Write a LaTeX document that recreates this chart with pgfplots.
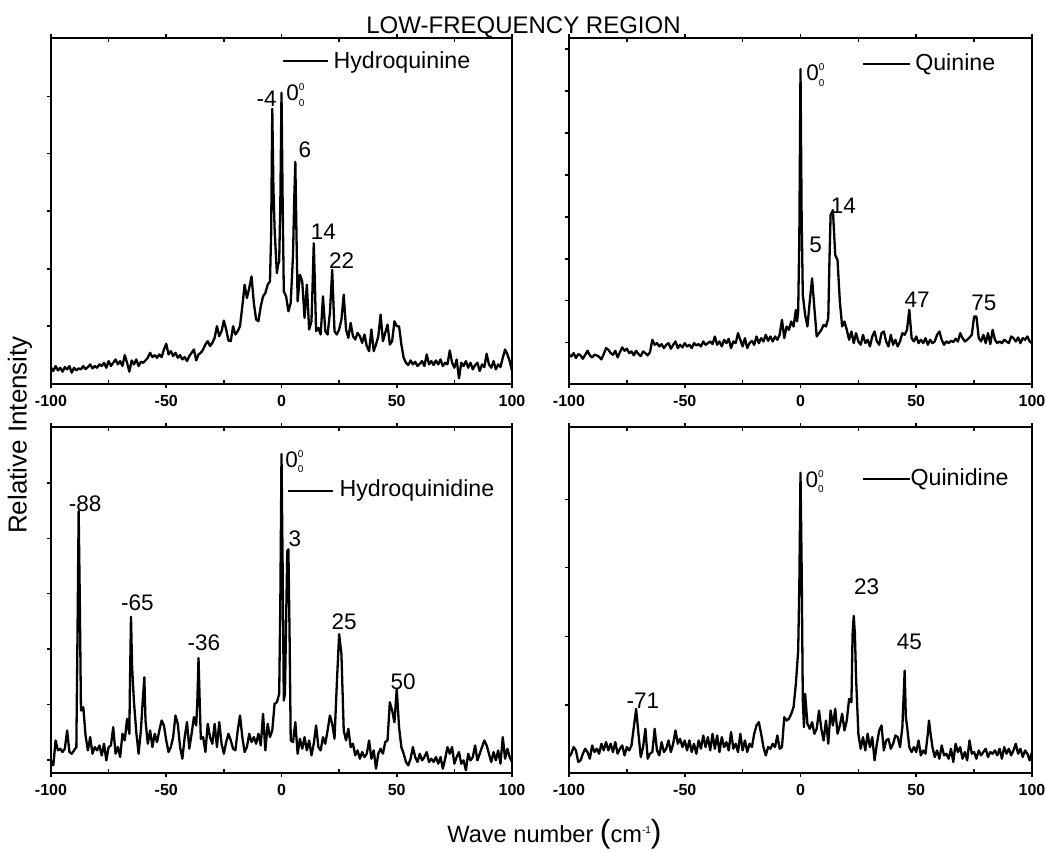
\documentclass[border=0pt]{standalone}
\usepackage{pgfplots}
\pgfplotsset{compat=1.18}
\usepackage{pgfplotstable}
\usepackage{fontspec}
\setmainfont{Liberation Sans}

% Hydroquinine (top left)
\pgfplotstableread{
x y
-100 49
-99 39
-98 54
-97 41
-96 49
-95 37
-94 51
-93 44
-92 54
-91 34
-90 49
-89 41
-88 47
-87 44
-86 54
-85 45
-84 51
-83 59
-82 47
-81 54
-80 49
-79 59
-78 54
-77 64
-76 49
-75 69
-74 54
-73 64
-72 74
-71 59
-70 69
-69 54
-68 87
-67 64
-66 37
-65 71
-64 59
-63 74
-62 54
-61 67
-60 64
-59 71
-58 79
-57 94
-56 81
-55 87
-54 79
-53 89
-52 81
-51 104
-50 121
-49 89
-48 99
-47 84
-46 94
-45 79
-44 87
-43 74
-42 81
-41 69
-40 84
-39 94
-38 104
-37 71
-36 89
-35 94
-34 104
-33 119
-32 129
-31 114
-30 124
-29 139
-28 174
-27 144
-26 159
-25 191
-24 164
-23 131
-22 129
-21 174
-20 149
-19 159
-18 174
-17 234
-16 299
-15 259
-14 289
-13 324
-12 244
-11 194
-10 189
-9 234
-8 264
-7 274
-6 299
-5 309
-4.5 449
-4 829
-3.5 589
-3 469
-2.5 399
-2 334
-1.5 359
-1 369
-0.5 549
0 877
0.5 549
1 279
2 264
3 219
4 244
5 389
5.5 549
6 669
6.5 449
7 249
8 329
9 309
10 199
11 299
12 164
13 189
13.5 299
14 424
14.5 299
15 159
16 169
17 149
18 264
19 159
20 149
21 214
22 344
22.5 249
23 159
24 149
25 164
26 194
27 269
28 164
29 139
30 184
31 144
32 134
33 154
34 144
35 124
36 149
37 114
38 99
39 164
40 99
41 119
42 144
43 209
44 129
45 154
46 179
47 119
48 129
49 189
50 174
51 174
52 119
53 79
54 64
55 57
56 71
57 59
58 67
59 54
60 61
61 69
62 54
63 89
64 59
65 69
66 57
67 71
68 59
69 74
70 54
71 64
72 59
73 101
74 64
75 49
76 74
77 17
78 64
79 54
80 69
81 49
82 64
83 44
84 57
85 64
86 39
87 59
88 51
89 91
90 59
91 49
92 69
93 44
94 59
95 51
96 79
97 104
98 89
99 69
100 39
}\dataTL

% Quinine (top right)
\pgfplotstableread{
x y
-100 88
-99 83
-98 93
-97 78
-96 90
-95 86
-94 76
-93 88
-92 100
-91 86
-90 80
-89 88
-88 86
-87 82
-86 74
-85 90
-84 108
-83 103
-82 93
-81 88
-80 100
-79 80
-78 96
-77 110
-76 100
-75 106
-74 93
-73 98
-72 86
-71 100
-70 90
-69 84
-68 98
-67 93
-66 86
-65 96
-64 133
-63 118
-62 123
-61 113
-60 120
-59 108
-58 118
-57 123
-56 106
-55 118
-54 128
-53 108
-52 118
-51 110
-50 123
-49 113
-48 118
-47 108
-46 123
-45 116
-44 120
-43 113
-42 128
-41 118
-40 123
-39 128
-38 120
-37 143
-36 118
-35 128
-34 113
-33 133
-32 123
-31 136
-30 108
-29 128
-28 123
-27 153
-26 133
-25 113
-24 138
-23 108
-22 123
-21 130
-20 118
-19 143
-18 123
-17 138
-16 128
-15 148
-14 130
-13 143
-12 128
-11 143
-10 133
-9 148
-8 193
-7 138
-6 173
-5 163
-4 188
-3 173
-2 223
-1.5 188
-1 218
-0.5 448
0 948
0.5 498
1 268
2 208
3 173
4 248
5 318
6 228
7 143
8 153
9 163
10 178
11 173
12 198
12.5 368
13 508
14 523
15 388
16 373
17 248
18 173
19 188
20 163
21 133
22 158
23 123
24 153
25 128
26 118
27 148
28 123
29 133
30 113
31 143
32 158
33 128
34 118
35 153
36 158
37 128
38 113
39 148
40 118
41 133
42 113
43 128
44 153
45 148
46 163
47 223
48 138
49 128
50 143
51 123
52 133
53 123
54 138
55 118
56 133
57 123
58 128
59 148
60 158
61 133
62 118
63 128
64 123
65 130
66 126
67 136
68 128
69 153
70 138
71 128
72 133
73 140
74 148
75 203
76 203
77 138
78 128
79 148
80 123
81 153
82 120
83 163
84 133
85 123
86 128
87 123
88 133
89 128
90 123
91 143
92 138
93 128
94 140
95 123
96 138
97 133
98 143
99 128
100 123
}\dataTR

% Hydroquinidine (bottom left)
\pgfplotstableread{
x y
-100 38
-99 23
-98 98
-97 68
-96 73
-95 63
-94 73
-93 128
-92 63
-91 58
-90 68
-89 78
-88.5 418
-88 788
-87.5 518
-87 188
-86 198
-85 113
-84 68
-83 108
-82 58
-81 78
-80 68
-79 83
-78 53
-77 88
-76 38
-75 78
-74 83
-73 138
-72 58
-71 78
-70 48
-69 118
-68 98
-67 163
-66 118
-65.8 238
-65.3 470
-64.8 318
-64 213
-63 123
-62 58
-61 128
-60.2 218
-59.5 288
-59 158
-58 88
-57 128
-56 78
-55 118
-54 93
-53 128
-52 158
-51 143
-50 98
-49 63
-48 78
-47 108
-46 173
-45 148
-44 78
-43 43
-42 108
-41 153
-40 73
-39 118
-38 168
-37 143
-36.5 218
-36 346
-35.5 218
-35 103
-34 108
-33 63
-32 148
-31 108
-30 88
-29 148
-28 78
-27 153
-26 88
-25 58
-24 93
-23 118
-22 98
-21 73
-20 68
-19 128
-18 173
-17 108
-16 63
-15 78
-14 118
-13 93
-12 108
-11 88
-10 118
-9 83
-8 178
-7 68
-6 148
-5 108
-4 128
-3 208
-2 213
-1 238
-0.5 518
0 960
0.5 618
1 218
1.5 238
2.5 668
3 673
3.5 418
4 98
5 93
6 153
7 58
8 103
9 73
10 108
11 68
12 98
13 53
14 88
15 143
16 78
17 68
18 108
19 88
20 128
21 173
22 148
23 103
24 268
25 418
26 358
27 128
28 98
29 133
30 78
31 88
32 53
33 68
34 43
35 63
36 48
37 58
38 98
39 43
40 68
41 13
42 58
43 73
44 58
45 93
46 98
47 213
48 188
49 153
50 253
51 138
52 78
53 58
54 33
55 23
56 43
57 78
58 48
59 33
60 58
61 38
62 48
63 63
64 33
65 43
66 33
67 48
68 28
69 48
70 13
71 43
72 78
73 58
74 78
75 28
76 48
77 63
78 28
79 38
80 8
81 58
82 38
83 48
84 83
85 38
86 58
87 78
88 98
89 83
90 58
91 33
92 63
93 38
94 68
95 28
96 108
97 43
98 73
99 48
100 33
}\dataBL

% Quinidine (bottom right)
\pgfplotstableread{
x y
-100 48
-99 58
-98 78
-97 68
-96 33
-95 38
-94 58
-93 73
-92 63
-91 43
-90 83
-89 63
-88 73
-87 58
-86 88
-85 68
-84 93
-83 68
-82 88
-81 63
-80 93
-79 58
-78 73
-77 83
-76 53
-75 78
-74 68
-73 83
-72 138
-71 193
-70 118
-69 48
-68 78
-67 133
-66 43
-65 58
-64 63
-63 133
-62 68
-61 53
-60 93
-59 63
-58 73
-57 98
-56 63
-55 88
-54 128
-53 88
-52 103
-51 78
-50 98
-49 68
-48 98
-47 63
-46 88
-45 58
-44 98
-43 73
-42 113
-41 78
-40 108
-39 68
-38 118
-37 73
-36 113
-35 63
-34 108
-33 78
-32 93
-31 68
-30 123
-29 73
-28 88
-27 63
-26 118
-25 68
-24 98
-23 63
-22 88
-21 78
-20 118
-19 143
-18 153
-17 118
-16 78
-15 53
-14 78
-13 73
-12 88
-11 78
-10 113
-9 73
-8 78
-7 168
-6 158
-5 163
-4 178
-3 198
-2 268
-1 368
-0.5 568
0 903
0.5 618
1 218
1.5 138
2 238
3 148
4 133
5 153
6 118
7 133
8 188
9 133
10 98
11 158
12 88
13 188
14 143
15 193
16 118
17 143
18 178
19 128
20 158
21 223
22 213
22.5 418
23 473
23.5 418
24 288
25 118
26 73
27 108
28 68
29 118
30 78
31 108
32 38
33 88
34 128
35 143
36 68
37 98
38 103
39 73
40 88
41 113
42 108
43 78
44 138
45 308
45.5 168
46 143
47 78
48 63
49 78
50 63
51 98
52 53
53 68
54 58
55 118
55.5 158
56 128
57 78
58 48
59 68
60 43
61 83
62 53
63 58
64 43
65 73
66 33
67 88
68 63
69 78
70 43
71 63
72 38
73 98
74 58
75 63
76 43
77 68
78 53
79 63
80 73
81 48
82 63
83 58
84 68
85 53
86 73
87 43
88 78
89 58
90 73
91 53
92 68
93 88
94 58
95 73
96 48
97 68
98 58
99 38
100 63
}\dataBR

\pgfplotsset{
  panel/.style={
    scale only axis, width=230.5pt, height=173pt,
    xmin=-100, xmax=100, ymin=0, ymax=1041,
    axis line style={line width=1pt},
    xtick={-100,-50,0,50,100},
    xticklabels={-100,-50,0,50,100},
    xticklabel style={font=\fontsize{8}{9}\selectfont\bfseries},
    extra x ticks={-75,-25,25,75},
    extra x tick labels={},
    extra x tick style={tick align=inside, major tick length=2pt},
    tick align=outside, major tick length=2pt,
    ytick pos=left, yticklabels={},
    tick style={line width=0.8pt, black},
  },
  trace/.style={black, line width=1.15pt, line join=round, mark=none},
}
\tikzset{
  lab/.style={anchor=base west, inner sep=0pt, font=\fontsize{11.25}{13}\selectfont},
  leg/.style={anchor=base west, inner sep=0pt, font=\fontsize{11.6}{13}\selectfont},
}
\newcommand{\oo}{0\rlap{\raisebox{5pt}{\fontsize{5}{6}\selectfont 0}}\raisebox{-2.8pt}{\fontsize{5}{6}\selectfont 0}}

\begin{document}
\begin{tikzpicture}
\path[use as bounding box] (0,0) rectangle (523pt,-426pt);

% top left
\begin{axis}[panel, at={(25.5pt,-192pt)}, anchor=south west,
  ymax=1042, ytick={174,347,521,694,866}]
\addplot[trace] table {\dataTL};
\draw[line width=1.1pt] (rel axis cs:0.503,0.934) -- (rel axis cs:0.601,0.934);
\node[leg] at (rel axis cs:0.612,0.913) {Hydroquinine};
\node[lab] at (axis cs:-11,837) {-4};
\node[lab] at (axis cs:1.9,854) {\oo};
\node[lab] at (axis cs:7.3,681) {6};
\node[lab] at (axis cs:12.6,434) {14};
\node[lab] at (axis cs:20.5,349) {22};
\end{axis}

% top right
\begin{axis}[panel, at={(284.5pt,-192pt)}, anchor=south west, width=231.5pt,
  ymax=1041, ytick={125,251,377,503,629,755,881,1008}]
\addplot[trace] table {\dataTR};
\draw[line width=1.1pt] (rel axis cs:0.635,0.925) -- (rel axis cs:0.737,0.925);
\node[leg] at (rel axis cs:0.747,0.905) {Quinine};
\node[lab] at (axis cs:2.4,913) {\oo};
\node[lab] at (axis cs:3.7,396) {5};
\node[lab] at (axis cs:12.9,512) {14};
\node[lab] at (axis cs:44.8,230) {47};
\node[lab] at (axis cs:73.6,220) {75};
\end{axis}

% bottom left
\begin{axis}[panel, at={(25.5pt,-386.5pt)}, anchor=south west,
  ytick={40,206,373,540,706,873}]
\addplot[trace] table {\dataBL};
\draw[line width=1.1pt] (rel axis cs:0.514,0.815) -- (rel axis cs:0.612,0.815);
\node[leg] at (rel axis cs:0.625,0.798) {Hydroquinidine};
\node[lab] at (axis cs:-92.4,788) {-88};
\node[lab] at (axis cs:-69.7,490) {-65};
\node[lab] at (axis cs:-40.9,368) {-36};
\node[lab] at (axis cs:1.5,920) {\oo};
\node[lab] at (axis cs:2.9,680) {3};
\node[lab] at (axis cs:21.6,433) {25};
\node[lab] at (axis cs:47.2,250) {50};
\end{axis}

% bottom right
\begin{axis}[panel, at={(284.5pt,-386.5pt)}, anchor=south west, width=231.5pt,
  ytick={205,411,618,823}]
\addplot[trace] table {\dataBR};
\draw[line width=1.1pt] (rel axis cs:0.635,0.850) -- (rel axis cs:0.737,0.850);
\node[leg] at (rel axis cs:0.737,0.832) {Quinidine};
\node[lab] at (axis cs:-75.3,193) {-71};
\node[lab] at (axis cs:2.0,860) {\oo};
\node[lab] at (axis cs:23.0,538) {23};
\node[lab] at (axis cs:41.5,373) {45};
\end{axis}

% titles and axis labels
\node[anchor=base, inner sep=0pt, font=\fontsize{12}{14}\selectfont] at (261.75pt,-16.5pt) {LOW-FREQUENCY REGION};
\node[rotate=90, inner sep=0pt, font=\fontsize{13}{15}\selectfont] at (10pt,-217.5pt) {Relative Intensity};
\node[anchor=base west, inner sep=0pt, font=\fontsize{11.8}{13}\selectfont] at (223.5pt,-421pt)
  {Wave number {\fontsize{16}{17}\selectfont(}cm\raisebox{4.5pt}{\fontsize{5}{6}\selectfont -1}{\fontsize{16}{17}\selectfont)}};
\end{tikzpicture}
\end{document}
